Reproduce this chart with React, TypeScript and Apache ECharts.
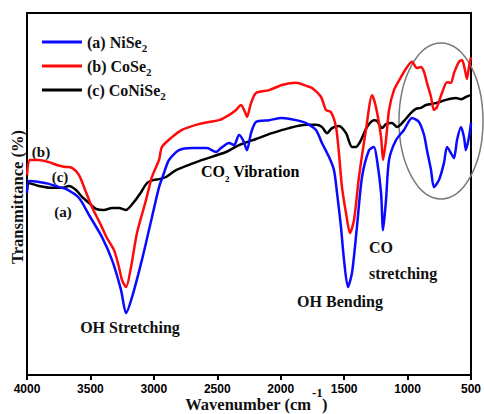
import React, { useEffect, useRef } from "react";
import * as echarts from "echarts";

// ---- data ----
const niseWave = [4000, 3984, 3905, 3827, 3748, 3693, 3590, 3511, 3409, 3330, 3259, 3219, 3172, 3094, 3015, 2959, 2920, 2881, 2802, 2699, 2581, 2510, 2471, 2408, 2368, 2329, 2297, 2266, 2234, 2195, 2092, 1990, 1879, 1801, 1722, 1675, 1619, 1580, 1556, 1525, 1501, 1470, 1438, 1399, 1359, 1304, 1265, 1241, 1209, 1193, 1170, 1146, 1091, 1028, 965, 910, 870, 847, 815, 792, 752, 713, 689, 658, 634, 610, 579, 555, 540, 516, 500];
const niseT = [50.3, 53.6, 53.3, 52.8, 51.9, 51.4, 48.9, 44.2, 38.1, 31.8, 23.5, 17.1, 21.5, 31.8, 43.6, 51.9, 55.8, 59.4, 62.1, 62.7, 62.7, 61.6, 62.7, 64.1, 63.5, 66.3, 64.9, 62.1, 66.8, 69.9, 70.4, 71.0, 70.4, 69.6, 67.7, 64.1, 60.2, 56.6, 50.3, 40.9, 31.8, 24.3, 28.2, 40.9, 54.7, 62.1, 63.0, 59.4, 50.3, 40.0, 48.3, 59.4, 64.9, 67.7, 71.0, 69.9, 66.3, 62.1, 56.6, 51.9, 53.9, 58.6, 63.0, 61.3, 59.9, 64.9, 68.5, 65.7, 62.1, 65.7, 69.6];

const coseWave = [4000, 3976, 3905, 3827, 3764, 3708, 3645, 3590, 3535, 3488, 3417, 3369, 3314, 3275, 3251, 3219, 3180, 3133, 3062, 3015, 2959, 2936, 2857, 2778, 2668, 2565, 2486, 2408, 2352, 2313, 2281, 2266, 2234, 2195, 2092, 1990, 1879, 1793, 1753, 1682, 1643, 1604, 1564, 1541, 1517, 1485, 1454, 1422, 1383, 1328, 1280, 1249, 1209, 1193, 1170, 1146, 1107, 1052, 1004, 965, 926, 894, 870, 847, 815, 792, 768, 729, 689, 658, 634, 595, 571, 547, 532, 516, 500];
const coseT = [55.2, 59.4, 59.4, 58.8, 58.0, 57.5, 57.2, 55.2, 50.5, 46.4, 41.4, 37.8, 34.5, 29.8, 26.2, 24.3, 29.8, 39.2, 48.3, 54.7, 59.4, 63.0, 65.7, 67.7, 69.1, 69.9, 70.4, 71.8, 73.2, 74.6, 72.6, 71.3, 75.1, 77.9, 78.7, 80.1, 80.7, 79.8, 79.3, 76.8, 73.2, 72.6, 68.5, 61.3, 51.9, 44.7, 39.2, 42.8, 54.7, 67.7, 77.3, 74.0, 65.7, 59.4, 64.9, 73.2, 78.7, 82.3, 85.1, 86.5, 84.8, 85.1, 83.7, 80.7, 76.8, 73.2, 74.0, 77.9, 80.9, 80.7, 83.4, 86.5, 87.0, 84.2, 81.8, 85.1, 87.8];

const conisWave = [4000, 3984, 3905, 3803, 3724, 3669, 3614, 3566, 3511, 3456, 3393, 3330, 3275, 3219, 3157, 3101, 3054, 2999, 2959, 2904, 2825, 2644, 2431, 2329, 2195, 2069, 1935, 1801, 1722, 1675, 1635, 1596, 1541, 1485, 1438, 1407, 1367, 1320, 1265, 1241, 1201, 1170, 1123, 1083, 1028, 973, 934, 894, 855, 776, 697, 618, 579, 540, 500];
const conisT = [51.1, 53.0, 52.2, 51.7, 51.7, 52.2, 51.1, 49.2, 47.5, 45.9, 45.6, 46.1, 46.1, 45.6, 47.8, 50.5, 53.0, 53.9, 54.1, 54.7, 56.6, 59.1, 61.6, 63.5, 65.2, 66.8, 68.2, 69.1, 69.1, 68.5, 66.8, 68.2, 68.8, 66.8, 63.0, 63.0, 64.9, 68.5, 70.4, 70.2, 68.2, 69.3, 69.6, 68.5, 70.2, 72.4, 73.5, 73.8, 74.6, 75.1, 76.0, 76.5, 76.2, 76.8, 77.3];

const seriesNames = ["(a) NiSe2", "(b) CoSe2", "(c) CoNiSe2"];
const seriesColors = ["#0a0aff", "#ff0a0a", "#000000"];
const xTicks = { min: 500, max: 4000, interval: 500 };

const pair = (w: number[], t: number[]) => w.map((v, i) => [v, t[i]]);

const SERIF = "'Liberation Serif', 'Times New Roman', serif";
const SANS = "'Liberation Sans', Arial, sans-serif";

export default function App() {
  const ref = useRef<HTMLDivElement>(null);
  useEffect(() => {
    if (!ref.current) return;
    const chart = echarts.init(ref.current, undefined, { renderer: "svg" });
    const datasets = [pair(niseWave, niseT), pair(coseWave, coseT), pair(conisWave, conisT)];
    const richMain = { fontFamily: SERIF, fontWeight: "bold", fontSize: 16, color: "#111", lineHeight: 22 };
    const richSub = { fontFamily: SERIF, fontWeight: "bold", fontSize: 10, color: "#111", lineHeight: 10, verticalAlign: "bottom" };
    const annText = (x: number, y: number, text: string, align = "center", size = 16) => ({
      type: "text",
      x,
      y,
      silent: true,
      style: {
        text,
        fill: "#111",
        font: `bold ${size}px ${SERIF}`,
        align,
        verticalAlign: "middle",
        textAlign: align,
        textVerticalAlign: "middle",
      },
    });
    chart.setOption({
      animation: false,
      backgroundColor: "#fff",
      grid: {
        left: 27,
        right: 12,
        top: 13,
        bottom: 39,
        show: true,
        borderColor: "#000",
        borderWidth: 2,
        backgroundColor: "transparent",
      },
      legend: {
        orient: "vertical",
        left: 37,
        top: 29,
        icon: "rect",
        itemWidth: 40,
        itemHeight: 3,
        itemGap: 5,
        data: seriesNames,
        formatter: (name: string) => `{t|${name.slice(0, -1)}}{s|2}`,
        textStyle: {
          rich: {
            t: { ...richMain, fontSize: 16, lineHeight: 22 },
            s: { ...richSub, fontSize: 11, lineHeight: 11 },
          },
        },
      },
      xAxis: {
        type: "value",
        inverse: true,
        min: xTicks.min,
        max: xTicks.max,
        interval: xTicks.interval,
        axisLine: { show: true, lineStyle: { color: "#000", width: 2 } },
        axisTick: { show: true, inside: false, length: 5, lineStyle: { color: "#000", width: 2 } },
        axisLabel: {
          color: "#000",
          fontFamily: SANS,
          fontWeight: "bold",
          fontSize: 12,
          margin: 8,
          formatter: (v: number) => String(v),
        },
        splitLine: { show: false },
      },
      yAxis: {
        type: "value",
        min: 0,
        max: 100,
        axisLine: { show: true, lineStyle: { color: "#000", width: 2 } },
        axisTick: { show: false },
        axisLabel: { show: false },
        splitLine: { show: false },
      },
      series: datasets.map((d, i) => ({
        name: seriesNames[i],
        type: "line",
        data: d,
        symbol: "none",
        showSymbol: false,
        smooth: 0.25,
        color: seriesColors[i],
        itemStyle: { color: seriesColors[i] },
        lineStyle: { color: seriesColors[i], width: 2.5 },
        z: 3 - i,
      })),
      graphic: [
        {
          type: "ellipse",
          silent: true,
          shape: { cx: 441, cy: 121, rx: 42, ry: 78 },
          style: { fill: "none", stroke: "#7a7a7a", lineWidth: 1.5 },
        },
        annText(41, 152, "(b)", "center", 15),
        annText(60, 177, "(c)", "center", 15),
        annText(63, 212, "(a)", "center", 15),
        annText(130, 327, "OH Stretching"),
        annText(340, 301, "OH Bending"),
        annText(369, 247, "CO", "left"),
        annText(369, 273, "stretching", "left"),
        {
          type: "text",
          x: 201,
          y: 171,
          silent: true,
          style: {
            text: "{a|CO}{s|2}{a| Vibration}",
            align: "left",
            verticalAlign: "middle",
            textAlign: "left",
            textVerticalAlign: "middle",
            rich: {
              a: { ...richMain, lineHeight: 24 },
              s: { ...richSub, fontSize: 9, lineHeight: 9 },
            },
          },
        },
        annText(311, 404, "Wavenumber (cm", "right", 16.5),
        annText(312, 392, "-1", "left", 13),
        annText(322, 404, ")", "left", 16.5),
        {
          type: "text",
          x: 17,
          y: 197,
          rotation: Math.PI / 2,
          silent: true,
          style: {
            text: "Transmittance (%)",
            fill: "#111",
            font: `bold 16.5px ${SERIF}`,
            align: "center",
            verticalAlign: "middle",
            textAlign: "center",
            textVerticalAlign: "middle",
          },
        },
      ],
    });
    return () => chart.dispose();
  }, []);
  return (
    <div
      ref={ref}
      style={{ position: "fixed", left: 0, top: 0, width: 484, height: 414, background: "#fff" }}
    />
  );
}
